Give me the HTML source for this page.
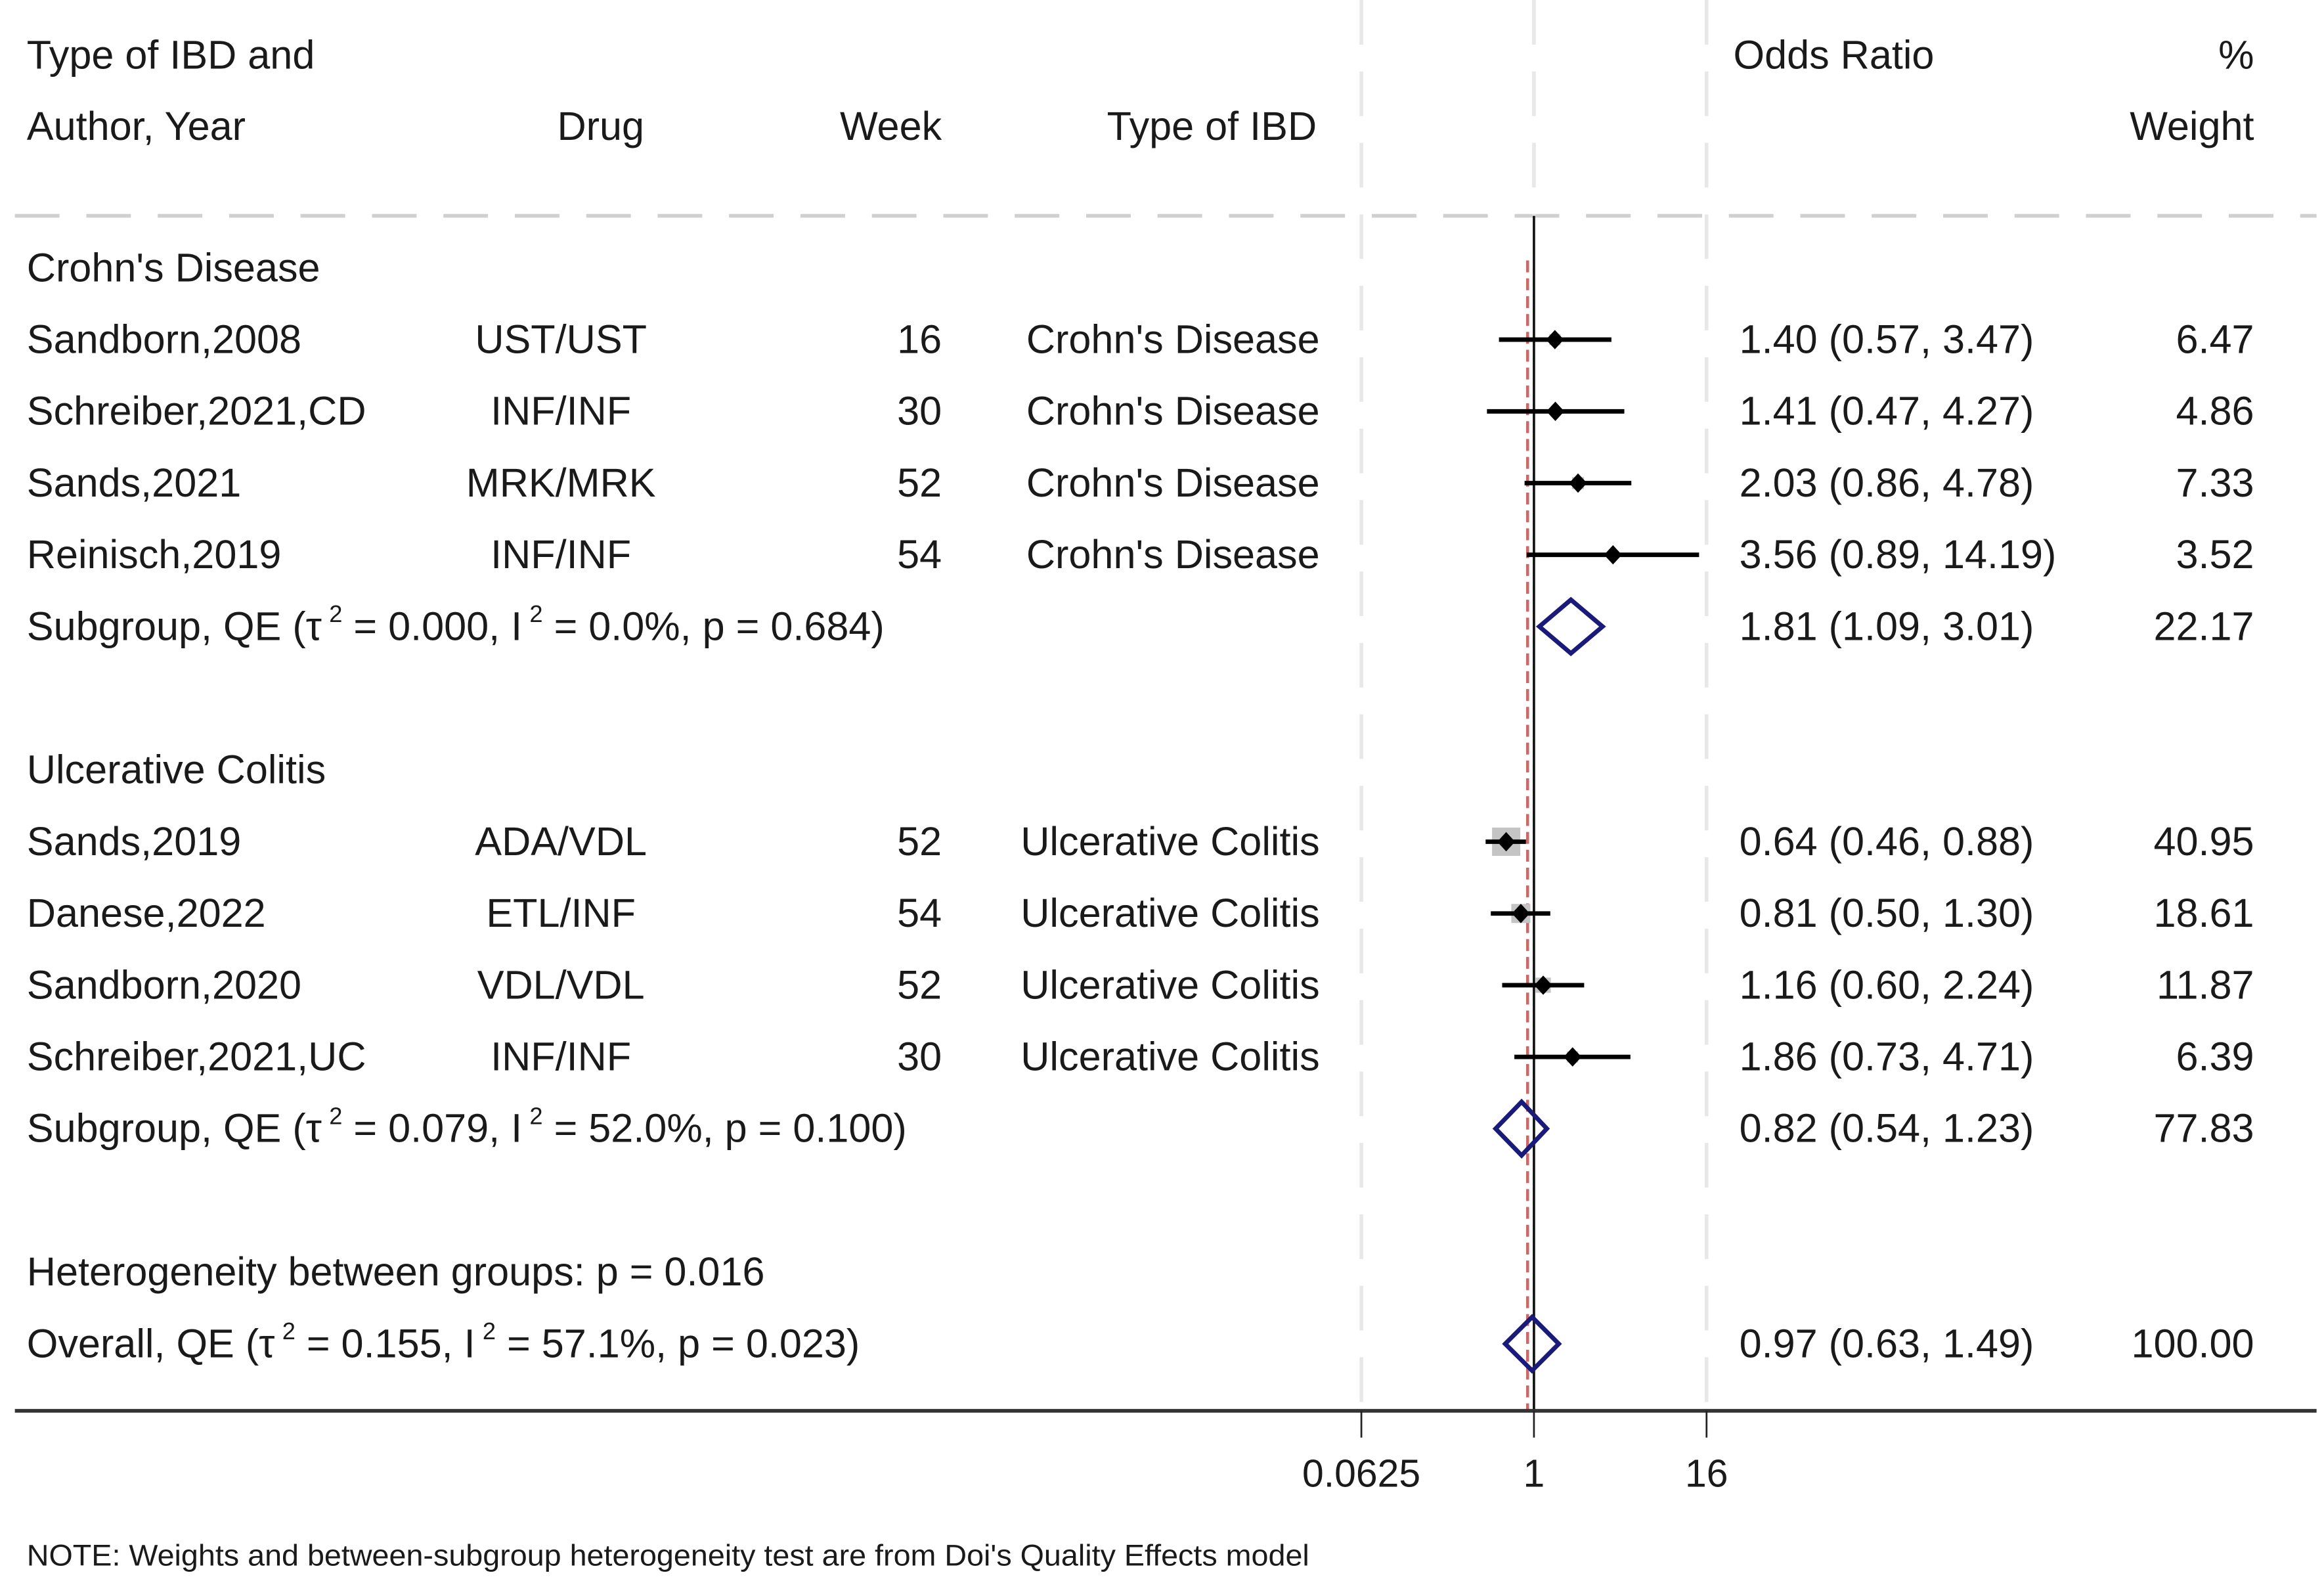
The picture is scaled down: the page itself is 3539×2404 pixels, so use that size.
<!DOCTYPE html>
<html><head><meta charset="utf-8"><style>
html,body{margin:0;padding:0;background:#fff;}
svg{display:block;}
text{font-family:"Liberation Sans",Arial,sans-serif;fill:#1a1a1a;}
</style></head><body>
<svg id="chart" width="3539" height="2404" viewBox="0 0 1562 1061" xmlns="http://www.w3.org/2000/svg">
<g id="grid">
<line x1="10" y1="145" x2="1557" y2="145" stroke="#d0d0d0" stroke-width="2.5" stroke-dasharray="30,18"/>
<line x1="915" y1="0" x2="915" y2="945" stroke="#e8e8e8" stroke-width="2.5" stroke-dasharray="30,18"/>
<line x1="1147" y1="0" x2="1147" y2="945" stroke="#e8e8e8" stroke-width="2.5" stroke-dasharray="30,18"/>
<line x1="1031" y1="0" x2="1031" y2="145" stroke="#e8e8e8" stroke-width="2.5" stroke-dasharray="30,18"/>
</g>
<g id="header" font-size="27">
<text x="18" y="46">Type of IBD and</text>
<text x="18" y="94">Author, Year</text>
<text x="433" y="94" text-anchor="end">Drug</text>
<text x="633" y="94" text-anchor="end">Week</text>
<text x="885" y="94" text-anchor="end">Type of IBD</text>
<text x="1165" y="46">Odds Ratio</text>
<text x="1515" y="46" text-anchor="end">%</text>
<text x="1515" y="94" text-anchor="end">Weight</text>
</g>
<g id="rows" font-size="27"></g>
<g id="marks"></g>
<g id="axis"></g>
<text x="18" y="1052" font-size="20" textLength="862" lengthAdjust="spacingAndGlyphs">NOTE: Weights and between-subgroup heterogeneity test are from Doi's Quality Effects model</text>
</svg>
<script>
// Study data
const studies = ["Sandborn,2008","Schreiber,2021,CD","Sands,2021","Reinisch,2019","Sands,2019","Danese,2022","Sandborn,2020","Schreiber,2021,UC"];
const drugs = ["UST/UST","INF/INF","MRK/MRK","INF/INF","ADA/VDL","ETL/INF","VDL/VDL","INF/INF"];
const weeks = [16,30,52,54,52,54,52,30];
const types = ["Crohn's Disease","Crohn's Disease","Crohn's Disease","Crohn's Disease","Ulcerative Colitis","Ulcerative Colitis","Ulcerative Colitis","Ulcerative Colitis"];
const orValues = [1.40,1.41,2.03,3.56,0.64,0.81,1.16,1.86];
const ciLow = [0.57,0.47,0.86,0.89,0.46,0.50,0.60,0.73];
const ciHigh = [3.47,4.27,4.78,14.19,0.88,1.30,2.24,4.71];
const weights = [6.47,4.86,7.33,3.52,40.95,18.61,11.87,6.39];
const rowIndex = [2,3,4,5,9,10,11,12];
// Pooled estimates
const pooledLabels = ["Subgroup, QE","Subgroup, QE","Overall, QE"];
const pooledTau = ["0.000","0.079","0.155"];
const pooledI2 = ["0.0%","52.0%","57.1%"];
const pooledP = ["0.684","0.100","0.023"];
const pooledOR = [1.81,0.82,0.97];
const pooledLow = [1.09,0.54,0.63];
const pooledHigh = [3.01,1.23,1.49];
const pooledWeight = ["22.17","77.83","100.00"];
const pooledRow = [6,13,16];
const groupHeaders = ["Crohn's Disease","Ulcerative Colitis"];
const groupRow = [1,8];
const tickValues = [0.0625,1,16];
const tickLabels = ["0.0625","1","16"];

const NS="http://www.w3.org/2000/svg";
const rowY = r => 180 + (r-1)*48.2;
const xScale = v => 1031 + 41.84*Math.log(v);
const f2 = v => v.toFixed(2);
function mk(tag, attrs, parent, txt){
  const e=document.createElementNS(NS,tag);
  for(const k in attrs) e.setAttribute(k,attrs[k]);
  if(txt!==undefined) e.textContent=txt;
  parent.appendChild(e); return e;
}
const rows=document.getElementById('rows');
const marks=document.getElementById('marks');
const axis=document.getElementById('axis');

let ov=mk('line',{x1:xScale(pooledOR[2])-3,y1:175,x2:xScale(pooledOR[2])-3,y2:948,stroke:'#c86a6a','stroke-width':2,'stroke-dasharray':'8,4'},marks);


let ref=mk('line',{x1:xScale(1),y1:145,x2:xScale(1),y2:948,stroke:'#111','stroke-width':1.6},marks);



groupHeaders.forEach((g,i)=>{
  const t=mk('text',{x:18,y:rowY(groupRow[i])+9},rows,g);
  
  
});

studies.forEach((s,i)=>{
  const y=rowY(rowIndex[i]), ty=y+9;
  let t=mk('text',{x:18,y:ty},rows,s);
  
  
  t=mk('text',{x:377,y:ty,'text-anchor':'middle'},rows,drugs[i]);
  
  
  t=mk('text',{x:633,y:ty,'text-anchor':'end'},rows,String(weeks[i]));
  
  
  t=mk('text',{x:887,y:ty,'text-anchor':'end'},rows,types[i]);
  
  
  t=mk('text',{x:1169,y:ty},rows,f2(orValues[i])+' ('+f2(ciLow[i])+', '+f2(ciHigh[i])+')');
  
  
  t=mk('text',{x:1515,y:ty,'text-anchor':'end'},rows,f2(weights[i]));
  
  
  const side=19*Math.sqrt(weights[i]/40.95), cx=xScale(orValues[i]);
  const b=mk('rect',{x:cx-side/2,y:y-side/2,width:side,height:side,fill:'#c4c4c4'},marks);
  
  
  const l=mk('line',{x1:xScale(ciLow[i]),y1:y,x2:xScale(ciHigh[i]),y2:y,stroke:'#000','stroke-width':3},marks);
  
  
  const d=mk('polygon',{points:`${cx-6},${y} ${cx},${y-6.5} ${cx+6},${y} ${cx},${y+6.5}`,fill:'#000'},marks);
  
  
});

pooledLabels.forEach((lab,i)=>{
  const y=rowY(pooledRow[i]), ty=y+9;
  const t=mk('text',{x:18,y:ty},rows);
  
  
  mk('tspan',{},t,lab+' (τ');
  mk('tspan',{dx:5,dy:-12,'font-size':16},t,'2');
  mk('tspan',{dy:12},t,' = '+pooledTau[i]+', I');
  mk('tspan',{dx:5,dy:-12,'font-size':16},t,'2');
  mk('tspan',{dy:12},t,' = '+pooledI2[i]+', p = '+pooledP[i]+')');
  let v=mk('text',{x:1169,y:ty},rows,f2(pooledOR[i])+' ('+f2(pooledLow[i])+', '+f2(pooledHigh[i])+')');
  
  
  v=mk('text',{x:1515,y:ty,'text-anchor':'end'},rows,pooledWeight[i]);
  
  
  const a=xScale(pooledLow[i]), c=xScale(pooledOR[i]), b=xScale(pooledHigh[i]);
  const d=mk('polygon',{points:`${a},${y} ${c},${y-18} ${b},${y} ${c},${y+18}`,fill:'none',stroke:'#1a1a7a','stroke-width':3},marks);
  
  
});
let het=mk('text',{x:18,y:rowY(15)+9},rows,'Heterogeneity between groups: p = 0.016');



const ax=mk('line',{x1:10,y1:948,x2:1557,y2:948,stroke:'#333','stroke-width':2.5},axis);


tickValues.forEach((v,i)=>{
  const x=xScale(v);
  const tk=mk('line',{x1:x,y1:948,x2:x,y2:966,stroke:'#222','stroke-width':1.2},axis);
  
  
  const tl=mk('text',{x:x,y:999,'text-anchor':'middle','font-size':26},axis,tickLabels[i]);
  
  
});
</script>
</body></html>
